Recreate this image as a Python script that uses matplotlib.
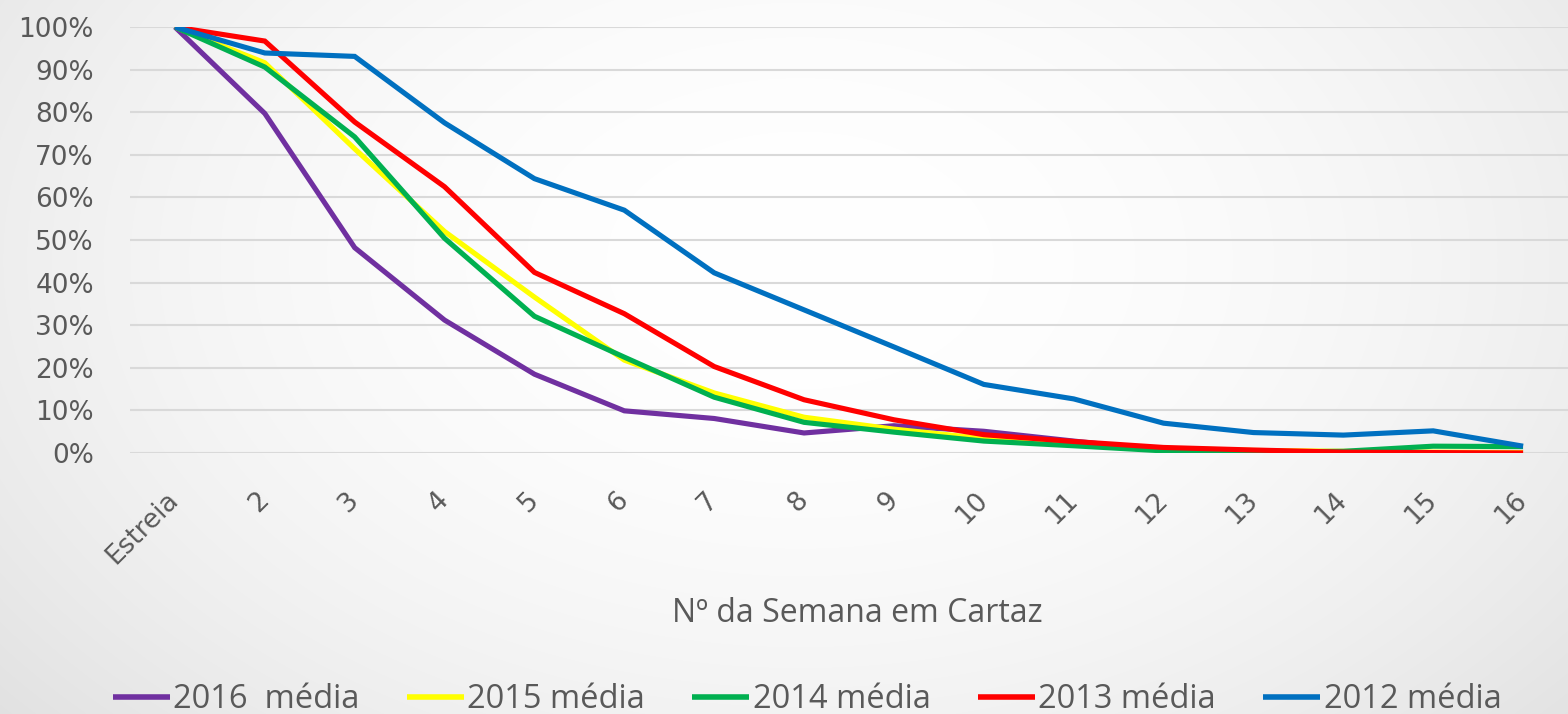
import numpy as np
import matplotlib
matplotlib.use("Agg")
import matplotlib.pyplot as plt

# Data (share of opening-week audience, %)
weeks = ["Estreia", "2", "3", "4", "5", "6", "7", "8", "9", "10", "11", "12", "13", "14", "15", "16"]
media_2016 = [100, 79.7, 48.2, 31.2, 18.5, 9.9, 8.1, 4.7, 6.4, 5.1, 2.8, 0.6, 0.3, 0.2, 0.1, 0.1]
media_2015 = [100, 91.6, 71.4, 52.0, 36.6, 21.8, 14.1, 8.4, 5.6, 3.4, 2.1, 1.1, 0.6, 0.4, 0.2, 0.1]
media_2014 = [100, 90.6, 74.2, 50.4, 32.1, 22.5, 13.1, 7.2, 4.9, 2.8, 1.7, 0.5, 0.2, 0.4, 1.6, 1.5]
media_2013 = [100, 96.7, 77.7, 62.5, 42.4, 32.7, 20.3, 12.5, 7.8, 4.3, 2.7, 1.3, 0.7, 0.2, 0.1, 0.0]
media_2012 = [100, 93.9, 93.1, 77.5, 64.4, 57.0, 42.3, 33.6, 24.9, 16.1, 12.7, 7.0, 4.8, 4.2, 5.2, 1.6]

series = [
    ("2016  média", media_2016, "#7030A0"),
    ("2015 média", media_2015, "#FFFF00"),
    ("2014 média", media_2014, "#00B050"),
    ("2013 média", media_2013, "#FF0000"),
    ("2012 média", media_2012, "#0070C0"),
]

text_color = "#595959"
plt.rcParams["font.family"] = ["DejaVu Sans"]

fig = plt.figure(figsize=(15.68, 7.14), dpi=100)

# soft radial background
h, w = 714, 1568
yy, xx = np.mgrid[0:h, 0:w]
r = np.sqrt(((xx - 800) / 900.0) ** 2 + ((yy - 260) / 600.0) ** 2)
shade = 1.0 - 0.085 * np.clip(r, 0, 1.3) ** 2
bg = np.dstack([shade, shade, shade])
fig.figimage(bg, 0, 0, zorder=-10)

ax = fig.add_axes([130 / 1568, 261 / 714, 1438 / 1568, 426 / 714])
ax.set_facecolor("none")

x = np.arange(len(weeks))
for label, vals, color in series:
    ax.plot(x, np.array(vals) / 100, color=color, lw=3.7, label=label,
            solid_joinstyle="miter", solid_capstyle="butt")

ax.set_xlim(-0.5, len(weeks) - 0.5)
ax.set_ylim(0, 1)
ax.set_yticks(np.arange(0, 1.01, 0.1))
ax.set_yticklabels([f"{int(round(v * 100))}%" for v in np.arange(0, 1.01, 0.1)])
ax.yaxis.grid(True, color="#d9d9d9", lw=1.5)
ax.set_axisbelow(True)
for s in ax.spines.values():
    s.set_visible(False)

ax.tick_params(axis="y", length=0, pad=26, labelsize=19, labelcolor=text_color)
ax.set_xticks(x)
ax.set_xticklabels(weeks, rotation=45, ha="right", va="center", rotation_mode="anchor")
ax.tick_params(axis="x", length=0, pad=31, labelsize=19, labelcolor=text_color)

fig.text(857 / 1568, 1 - 614 / 714, "Nº da Semana em Cartaz", ha="center", va="center",
         fontsize=23, color=text_color, family="Open Sans")

leg = fig.legend(loc="center", bbox_to_anchor=(807 / 1568, 1 - 700 / 714), ncol=5,
                 frameon=False, handlelength=1.75, handletextpad=0.1, columnspacing=1.45,
                 prop={"family": "Open Sans", "size": 23.5})
for t in leg.get_texts():
    t.set_color(text_color)
for l in leg.get_lines():
    l.set_linewidth(4)

fig.savefig("out.png", dpi=100)
